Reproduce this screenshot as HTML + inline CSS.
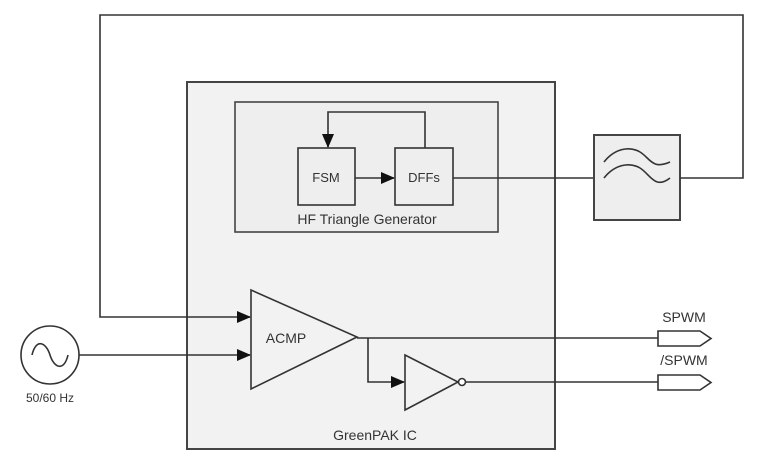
<!DOCTYPE html>
<html><head><meta charset="utf-8"><style>
html,body{margin:0;padding:0;background:#fff;}
svg{display:block;font-family:"Liberation Sans",sans-serif;}
</style></head><body>
<svg width="784" height="467" viewBox="0 0 784 467" xmlns="http://www.w3.org/2000/svg">
<defs>
<marker id="a" markerWidth="14" markerHeight="12" refX="13" refY="6" orient="auto" markerUnits="userSpaceOnUse">
<path d="M0,0 L14,6 L0,12 z" fill="#111"/></marker>
</defs>
<g stroke="#333" stroke-width="1.6" fill="none">
<rect x="187" y="82" width="368" height="367" fill="#f2f2f2" stroke="#444" stroke-width="2"/>
<rect x="235" y="102" width="263" height="130" fill="#eeeeee" stroke="#444"/>
<rect x="298" y="148" width="57" height="57" fill="#eeeeee"/>
<rect x="395" y="148" width="58" height="57" fill="#eeeeee"/>
<path d="M425,148 V112 H328 V147" marker-end="url(#a)"/>
<path d="M355,178 H394" marker-end="url(#a)"/>
<path d="M453,178 H595"/>
<rect x="594" y="135" width="86" height="85" fill="#eeeeee" stroke="#444" stroke-width="2"/>
<path d="M604,162 C615,148 630,146 640,152 C650,158 652,170 670,162"/>
<path d="M604,178 C615,164 630,162 640,168 C650,174 655,190 670,178"/>
<path d="M680,178 H743 V15 H100 V317 H250" marker-end="url(#a)"/>
<circle cx="50" cy="355" r="29" fill="#fff"/>
<path d="M32,355 C36,338 46,342 50,355 C54,368 64,372 68,355"/>
<path d="M79,355 H250" marker-end="url(#a)"/>
<path d="M251,290 L357,337 L251,389 z" fill="#f2f2f2"/>
<path d="M357,338 H658"/>
<path d="M368,338 V382 H404" marker-end="url(#a)"/>
<path d="M405,355 L458,382 L405,410 z" fill="#f2f2f2"/>
<circle cx="462" cy="382" r="3.5" fill="#fff"/>
<path d="M466,382 H658"/>
<path d="M658,331 H700 L711,338.5 L700,346 H658 z" fill="#fff"/>
<path d="M658,375 H700 L711,382.5 L700,390 H658 z" fill="#fff"/>
</g>
<g fill="#333" font-size="13">
<text x="326" y="182" text-anchor="middle">FSM</text>
<text x="424" y="182" text-anchor="middle">DFFs</text>
<text x="367" y="224" text-anchor="middle" font-size="14">HF Triangle Generator</text>
<text x="286" y="343" text-anchor="middle" font-size="14">ACMP</text>
<text x="50" y="402" text-anchor="middle" font-size="12">50/60 Hz</text>
<text x="684" y="322" text-anchor="middle" font-size="14">SPWM</text>
<text x="684" y="365" text-anchor="middle" font-size="14">/SPWM</text>
<text x="375" y="440" text-anchor="middle" font-size="14">GreenPAK IC</text>
</g>
</svg>
</body></html>
